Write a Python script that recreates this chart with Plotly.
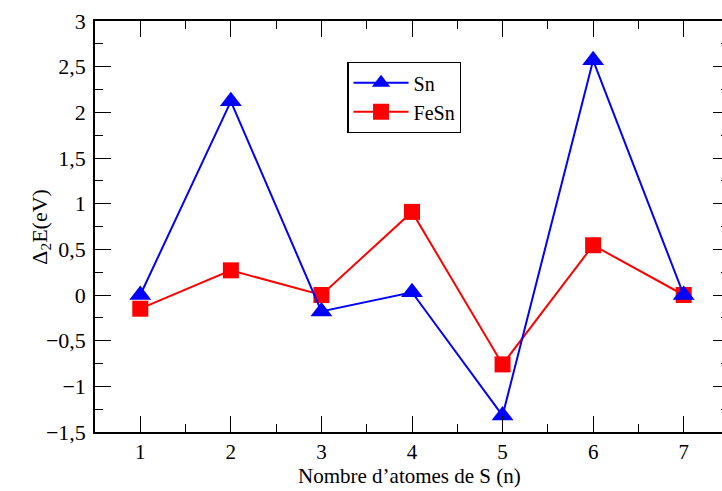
import plotly.graph_objects as go

n_atoms = [1, 2, 3, 4, 5, 6, 7]
sn_values = [0.0, 2.12, -0.18, 0.03, -1.32, 2.57, 0.0]
fesn_values = [-0.15, 0.27, 0.0, 0.91, -0.76, 0.545, 0.0]
y_ticks = [-1.5, -1, -0.5, 0, 0.5, 1, 1.5, 2, 2.5, 3]

FONT = "Liberation Serif"
FS = 22

fig = go.Figure()
fig.add_trace(go.Scatter(
    x=n_atoms, y=fesn_values, name="FeSn", mode="lines+markers",
    line=dict(color="#ff0000", width=2),
    marker=dict(symbol="square", size=16, color="#ff0000"),
))
fig.add_trace(go.Scatter(
    x=n_atoms, y=sn_values, name="Sn", mode="lines+markers",
    line=dict(color="#0000ff", width=2),
    marker=dict(symbol="triangle-up", size=19, color="#0000ff"),
))

axis_common = dict(
    showline=True, linecolor="black", linewidth=1.5, mirror="ticks",
    ticks="inside", ticklen=16, tickwidth=1.3, tickcolor="black",
    showgrid=False, zeroline=False,
)

fig.update_xaxes(
    range=[0.5, 7.5], tickmode="array", tickvals=n_atoms,
    minor=dict(dtick=0.5, tick0=0.5, ticks="inside", ticklen=8, tickwidth=1.3, tickcolor="black"),
    ticklabelstandoff=0,
    tickfont=dict(family=FONT, size=21, color="black"),
    **axis_common,
)
fig.update_yaxes(
    range=[-1.5, 3], tickmode="array", tickvals=y_ticks,
    minor=dict(dtick=0.25, tick0=0, ticks="inside", ticklen=8, tickwidth=1.3, tickcolor="black"),
    ticklabelstandoff=3,
    tickfont=dict(family=FONT, size=FS, color="black"),
    **axis_common,
)

fig.add_annotation(
    text="Nombre d’atomes de S (n)", xref="paper", yref="paper",
    x=(410 - 95) / 636, y=(432 - 476) / 414, xanchor="center", yanchor="middle",
    showarrow=False, font=dict(family=FONT, size=21, color="black"),
)
fig.add_annotation(
    text="Δ<sub>2</sub>E(eV)", xref="paper", yref="paper",
    x=(40 - 95) / 636, y=0.5, xanchor="center", yanchor="middle", textangle=-90,
    showarrow=False, font=dict(family=FONT, size=FS, color="black"),
)

fig.update_layout(
    width=740, height=491, autosize=False,
    margin=dict(l=95, r=9, t=18, b=59),
    separators=", ",
    plot_bgcolor="white", paper_bgcolor="white",
    font=dict(family=FONT, size=FS, color="black"),
    legend=dict(
        x=0.398, y=0.9, xanchor="left", yanchor="top",
        bordercolor="black", borderwidth=1.2, bgcolor="white",
        font=dict(family=FONT, size=20, color="black"),
        traceorder="reversed", tracegroupgap=0, itemwidth=55,
    ),
)

fig.write_html("out.html", post_script="document.documentElement.style.overflow='hidden';document.body.style.overflow='hidden';")
